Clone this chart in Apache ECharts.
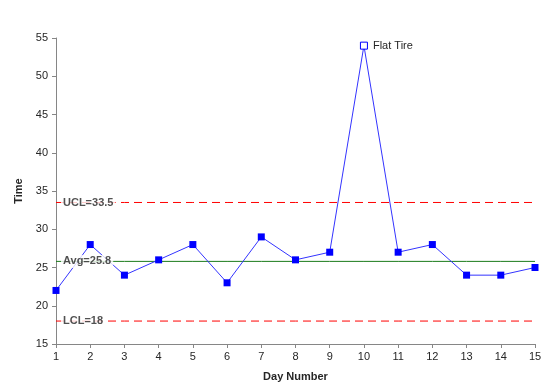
<!DOCTYPE html>
<html><head><meta charset="utf-8">
<script src="https://cdn.jsdelivr.net/npm/echarts@6/dist/echarts.min.js"></script>
<style>html,body{margin:0;padding:0;background:#fff}#c{width:546px;height:392px}</style>
</head><body><div id="c"></div>
<script>
const days = [1,2,3,4,5,6,7,8,9,10,11,12,13,14,15];
const times = [22,28,24,26,28,23,29,26,27,54,27,28,24,24,25];
const ucl = 33.5, avg = 25.8, lcl = 18;
const limitLabels = ['UCL=33.5','Avg=25.8','LCL=18'];
const limitValues = [ucl, avg, lcl];
const outlierIndex = 9;
const outlierLabel = 'Flat Tire';

const font = 'Liberation Sans';
const chart = echarts.init(document.getElementById('c'));
const lineData = days.map((d,i)=>{
  const p = {value:[d,times[i]]};
  if (i===outlierIndex) {
    p.itemStyle = {color:'#fff', borderColor:'#0000ff', borderWidth:1};
    p.symbolSize = 7;
    p.label = {show:true, position:'right', distance:5, formatter:outlierLabel, color:'#262626', fontSize:11, fontFamily:font};
  }
  return p;
});
function limitSeries(v, color, type){
  return {type:'line',data:days.map(d=>[d,v]),symbol:'none',silent:true,z:2,
    color:color,itemStyle:{color:color},
    lineStyle:{color:color,width:1,type:type}};
}
chart.setOption({
  animation:false,
  grid:{left:56,right:11,top:38,bottom:48},
  xAxis:{type:'value',min:1,max:15,interval:1,
    name:'Day Number',nameLocation:'middle',nameGap:27,
    nameTextStyle:{fontWeight:'bold',fontSize:11,color:'#262626',fontFamily:font},
    axisLine:{lineStyle:{color:'#868686'}},
    axisTick:{show:true,lineStyle:{color:'#868686'},length:4},
    axisLabel:{color:'#262626',fontSize:11,fontFamily:font,margin:7},
    splitLine:{show:false}},
  yAxis:{type:'value',min:15,max:55,interval:5,
    name:'Time',nameLocation:'middle',nameGap:27,nameRotate:90,
    nameTextStyle:{fontWeight:'bold',fontSize:11,color:'#262626',fontFamily:font},
    axisLine:{show:true,lineStyle:{color:'#868686'}},
    axisTick:{show:true,lineStyle:{color:'#868686'},length:4},
    axisLabel:{color:'#262626',fontSize:11,fontFamily:font,margin:8},
    splitLine:{show:false}},
  series:[
    limitSeries(ucl,'#ff0000',[8,5]),
    limitSeries(avg,'#1a7a1a','solid'),
    limitSeries(lcl,'#ff0000',[8,5]),
    {type:'line',data:lineData,symbol:'rect',symbolSize:7,
      lineStyle:{color:'#3333ff',width:1},itemStyle:{color:'#0000ff'},z:3},
    {type:'scatter',symbolSize:0,z:10,silent:true,
      data:limitValues.map((v,i)=>({value:[days[0],v],label:{formatter:limitLabels[i]}})),
      label:{show:true,position:'right',distance:5,color:'#262626',fontSize:11,fontWeight:'bold',fontFamily:font,
        backgroundColor:'#fff',padding:[1,2,1,2]}}
  ]
});
</script></body></html>
